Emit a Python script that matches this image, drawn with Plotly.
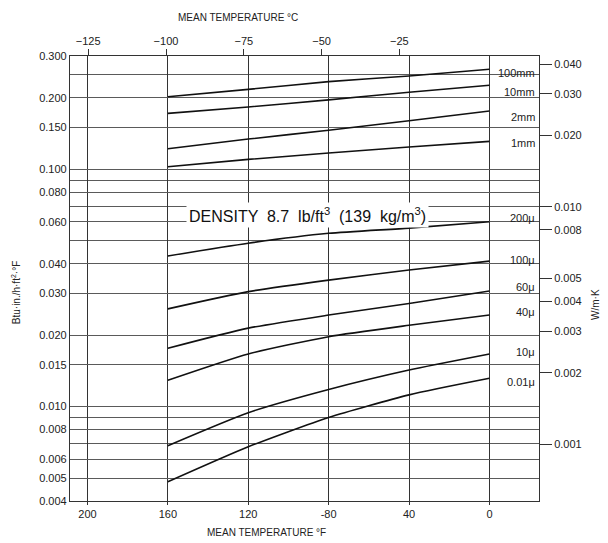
import math
import plotly.graph_objects as go

# ---------------- data ----------------
temps_F = [-160, -120, -80, -40, 0]

series_names = ["100mm", "10mm", "2mm", "1mm", "200μ", "100μ", "60μ", "40μ", "10μ", "0.01μ"]
k_100mm = [0.202, 0.217, 0.234, 0.247, 0.264]
k_10mm = [0.172, 0.183, 0.196, 0.211, 0.226]
k_2mm = [0.122, 0.134, 0.146, 0.160, 0.176]
k_1mm = [0.1025, 0.110, 0.117, 0.124, 0.131]
k_200u = [0.0431, 0.0488, 0.0537, 0.0565, 0.0601]
k_100u = [0.0258, 0.0305, 0.0341, 0.0376, 0.0410]
k_60u = [0.0176, 0.0214, 0.0243, 0.0272, 0.0307]
k_40u = [0.0129, 0.01665, 0.0197, 0.0220, 0.0243]
k_10u = [0.00684, 0.00942, 0.0118, 0.01425, 0.01665]
k_001u = [0.00482, 0.00677, 0.0090, 0.0112, 0.01315]
series_values = [k_100mm, k_10mm, k_2mm, k_1mm, k_200u, k_100u, k_60u, k_40u, k_10u, k_001u]
# label positions (Btu-in/h-ft2-F) in the right-hand label column
label_levels = [0.2537, 0.2109, 0.1655, 0.1293, 0.0621, 0.0415, 0.0320, 0.0251, 0.0170, 0.0127]

x_ticks_F = [-200, -160, -120, -80, -40, 0]
x_ticktext_F = ["200", "160", "120", "-80", "40", "0"]
x_ticks_C = [-125, -100, -75, -50, -25]
x_ticktext_C = ["−125", "−100", "−75", "−50", "−25"]

y_ticks = [0.3, 0.2, 0.15, 0.1, 0.08, 0.06, 0.04, 0.03, 0.02, 0.015,
           0.01, 0.008, 0.006, 0.005, 0.004]
y_ticktext = ["0.300", "0.200", "0.150", "0.100", "0.080", "0.060", "0.040", "0.030",
              "0.020", "0.015", "0.010", "0.008", "0.006", "0.005", "0.004"]
y_extra_grid = [0.25, 0.09, 0.07, 0.05, 0.009, 0.007]

si_factor = 0.1442  # Btu-in/h-ft2-F -> W/m-K
y_ticks_SI = [0.04, 0.03, 0.02, 0.01, 0.008, 0.005, 0.004, 0.003, 0.002, 0.001]
y_ticktext_SI = ["0.040", "0.030", "0.020", "0.010", "0.008", "0.005", "0.004", "0.003", "0.002", "0.001"]

# ---------------- figure ----------------
FONT = "Liberation Sans, Arial, sans-serif"
INK = "#222222"
GRID = "#5a5a5a"

fig = go.Figure()
for name, vals in zip(series_names, series_values):
    fig.add_trace(go.Scatter(x=temps_F, y=vals, mode="lines", name=name,
                             line=dict(color="#111111", width=1.6, shape="spline", smoothing=0.6),
                             showlegend=False, hoverinfo="skip"))

# invisible trace to activate the secondary axes
fig.add_trace(go.Scatter(x=[-100], y=[0.01], xaxis="x2", yaxis="y2", mode="markers",
                         marker=dict(opacity=0), showlegend=False, hoverinfo="skip"))

ylo, yhi = math.log10(0.004), math.log10(0.3)
fig.update_layout(
    width=600, height=535,
    margin=dict(l=62, r=69, t=48, b=42, autoexpand=False),
    paper_bgcolor="white", plot_bgcolor="white",
    font=dict(family=FONT, color=INK, size=11),
    xaxis=dict(range=[-208.69, 24.66], tickvals=x_ticks_F, ticktext=x_ticktext_F,
               showgrid=True, gridcolor="#333333", gridwidth=1.2, zeroline=False,
               showline=True, linecolor="#333333", linewidth=1.2, mirror=True,
               ticks="outside", ticklen=3, tickcolor="#333333", tickfont=dict(size=11),
               automargin=False),
    xaxis2=dict(overlaying="x", side="top", anchor="y", range=[-130.85, 19.86],
                tickvals=x_ticks_C, ticktext=x_ticktext_C, showgrid=False, zeroline=False,
                showline=False, ticks="outside", ticklen=6, tickcolor="#333333",
                tickfont=dict(size=11), automargin=False),
    yaxis=dict(type="log", range=[ylo, yhi], tickvals=y_ticks, ticktext=y_ticktext,
               showgrid=True, gridcolor=GRID, gridwidth=1, zeroline=False,
               showline=True, linecolor="#333333", linewidth=1.2, mirror=True,
               ticks="", tickfont=dict(size=11), automargin=False,
               minor=dict(tickvals=y_extra_grid, showgrid=True, gridcolor=GRID,
                          gridwidth=1, ticks="")),
    yaxis2=dict(type="log", overlaying="y", side="right", anchor="x",
                range=[ylo + math.log10(si_factor), yhi + math.log10(si_factor)],
                tickvals=y_ticks_SI, ticktext=y_ticktext_SI, showgrid=False, zeroline=False,
                showline=False, ticks="outside", ticklen=12, tickcolor="#333333",
                tickfont=dict(size=11), automargin=False),
)

annotations = [
    dict(text="DENSITY  8.7  lb/ft<sup>3</sup>  (139  kg/m<sup>3</sup>)", x=-90.3,
         y=math.log10(0.0641), xref="x", yref="y", showarrow=False,
         font=dict(size=16, color="#111111"), bgcolor="white", borderpad=2),
    dict(text="MEAN TEMPERATURE °C", x=0.358, y=1.0876, xref="paper", yref="paper",
         xanchor="center", yanchor="middle", showarrow=False, font=dict(size=10)),
    dict(text="MEAN TEMPERATURE °F", x=0.42, y=-0.0719, xref="paper", yref="paper",
         xanchor="center", yanchor="middle", showarrow=False, font=dict(size=10)),
    dict(text="Btu·in./h·ft<sup>2</sup>·°F", x=-0.1151, y=0.467, xref="paper", yref="paper",
         xanchor="center", yanchor="middle", showarrow=False, textangle=-90,
         font=dict(size=10)),
    dict(text="W/m·K", x=1.1215, y=0.4427, xref="paper", yref="paper",
         xanchor="center", yanchor="middle", showarrow=False, textangle=-90,
         font=dict(size=10)),
]
for name, lvl in zip(series_names, label_levels):
    annotations.append(dict(text=name, x=0.9957, y=math.log10(lvl), xref="paper", yref="y",
                            xanchor="right", showarrow=False, font=dict(size=11)))
fig.update_layout(annotations=annotations)

fig.write_html("out.html")
